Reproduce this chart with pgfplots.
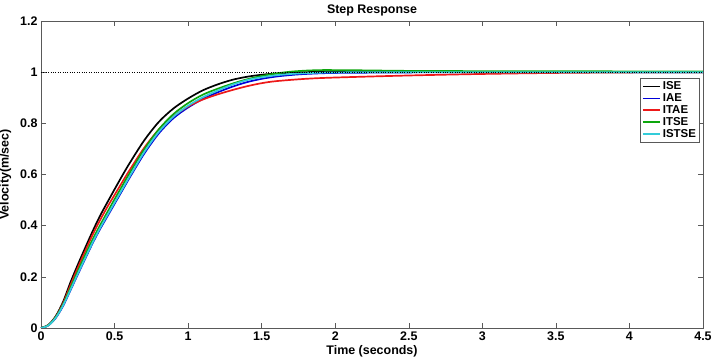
\documentclass[border=0pt]{standalone}
\usepackage{fontspec}
\setmainfont{Liberation Sans}
\usepackage{pgfplots}
\pgfplotsset{compat=1.18}
\definecolor{mblue}{rgb}{0,0,0.85}
\definecolor{mred}{rgb}{0.93,0.1,0.1}
\definecolor{mgreen}{rgb}{0.05,0.65,0.05}
\definecolor{mcyan}{rgb}{0.2,0.8,0.85}
\definecolor{axgray}{rgb}{0.35,0.35,0.35}
\begin{document}
\begin{tikzpicture}
\begin{axis}[
  name=ax,
  scale only axis,
  width=662bp, height=307bp,
  xmin=0, xmax=4.5, ymin=0, ymax=1.2,
  xtick={0,0.5,...,4.5},
  ytick={0,0.2,...,1.2},
  xticklabels={0,0.5,1,1.5,2,2.5,3,3.5,4,4.5},
  yticklabels={0,0.2,0.4,0.6,0.8,1,1.2},
  tick align=inside,
  xtick pos=both, ytick pos=both,
  major tick length=5bp,
  axis line style={axgray},
  every tick/.style={axgray},
  tick label style={font=\fontsize{12.5}{14}\selectfont\bfseries},
  title={\fontsize{12.5}{14}\selectfont\bfseries Step Response},
  title style={yshift=-5bp},
  xlabel={\fontsize{12.5}{14}\selectfont\bfseries Time (seconds)},
  ylabel={\fontsize{12.5}{14}\selectfont\bfseries Velocity(m/sec)},
  xlabel style={yshift=2bp},
  ylabel style={yshift=2bp},
  legend style={at={(rel axis cs:0.995,0.814)}, anchor=north east,
    font=\fontsize{11.5}{12}\selectfont\bfseries, draw=axgray,
    inner sep=1.5bp, row sep=-1.5bp},
  legend image code/.code={\draw[#1, line width=1.8pt] (0cm,0cm) -- (0.6cm,0cm);},
  legend cell align=left,
  clip=true,
]
\addplot[black, line width=1.7pt, smooth] coordinates {
(0,0) (0.05,0.012) (0.1,0.046) (0.15,0.102) (0.2,0.178) (0.25,0.247) (0.3,0.313)
(0.35,0.377) (0.4,0.437) (0.45,0.49) (0.5,0.542) (0.55,0.593) (0.6,0.642)
(0.7,0.732) (0.8,0.805) (0.9,0.858) (1.0,0.897) (1.1,0.929) (1.2,0.952)
(1.3,0.97) (1.4,0.982) (1.5,0.99) (1.6,0.995) (1.7,0.998) (1.8,1.0)
(2.0,1.002) (2.5,1.001) (3,1.0) (4.5,1.0)};
\addlegendentry{ISE}
\addplot[mblue, line width=1.7pt, smooth] coordinates {
(0,0) (0.05,0.01) (0.1,0.039) (0.15,0.086) (0.2,0.147) (0.25,0.209) (0.3,0.27)
(0.35,0.33) (0.4,0.385) (0.45,0.435) (0.5,0.485) (0.55,0.535) (0.6,0.585)
(0.7,0.68) (0.8,0.76) (0.9,0.82) (1.0,0.862) (1.1,0.895) (1.2,0.921)
(1.3,0.943) (1.4,0.961) (1.5,0.974) (1.6,0.983) (1.7,0.989) (1.8,0.993)
(2.0,0.997) (2.5,0.999) (3,1.0) (4.5,1.0)};
\addlegendentry{IAE}
\addplot[mred, line width=1.7pt, smooth] coordinates {
(0,0) (0.05,0.011) (0.1,0.043) (0.15,0.096) (0.2,0.167) (0.25,0.235) (0.3,0.3)
(0.35,0.363) (0.4,0.42) (0.45,0.472) (0.5,0.52) (0.55,0.568) (0.6,0.615)
(0.7,0.703) (0.8,0.775) (0.9,0.828) (1.0,0.866) (1.1,0.893) (1.2,0.913)
(1.3,0.93) (1.4,0.945) (1.5,0.957) (1.6,0.965) (1.8,0.974) (2.0,0.979)
(2.5,0.987) (3,0.993) (3.5,0.997) (4,0.999) (4.5,1.0)};
\addlegendentry{ITAE}
\addplot[mgreen, line width=1.7pt, smooth] coordinates {
(0,0) (0.05,0.011) (0.1,0.042) (0.15,0.092) (0.2,0.157) (0.25,0.222) (0.3,0.285)
(0.35,0.345) (0.4,0.4) (0.45,0.452) (0.5,0.503) (0.55,0.553) (0.6,0.603)
(0.7,0.697) (0.8,0.776) (0.9,0.836) (1.0,0.879) (1.1,0.912) (1.2,0.935)
(1.3,0.955) (1.4,0.972) (1.5,0.985) (1.6,0.995) (1.7,1.002) (1.8,1.006)
(1.9,1.008) (2.0,1.008) (2.2,1.007) (2.5,1.005) (3,1.004) (3.5,1.004) (4,1.003) (4.5,1.003)};
\addlegendentry{ITSE}
\addplot[mcyan, line width=1.7pt, smooth] coordinates {
(0,0) (0.05,0.01) (0.1,0.04) (0.15,0.088) (0.2,0.149) (0.25,0.212) (0.3,0.273)
(0.35,0.333) (0.4,0.389) (0.45,0.44) (0.5,0.49) (0.55,0.54) (0.6,0.59)
(0.7,0.686) (0.8,0.766) (0.9,0.826) (1.0,0.869) (1.1,0.902) (1.2,0.928)
(1.3,0.951) (1.4,0.969) (1.5,0.98) (1.6,0.988) (1.7,0.993) (1.8,0.996)
(2.0,0.999) (2.5,1.0) (3,1.0) (4.5,1.0)};
\addlegendentry{ISTSE}
\addplot[black, line width=0.4pt, dotted, forget plot] coordinates {(0,1) (4.5,1)};
\end{axis}
\pgfresetboundingbox
\path (ax.south west) ++(-41bp,-34bp) coordinate (bl);
\path (ax.north east) ++(10bp,21bp) coordinate (tr);
\path[use as bounding box] (bl) rectangle (tr);
\end{tikzpicture}
\end{document}
